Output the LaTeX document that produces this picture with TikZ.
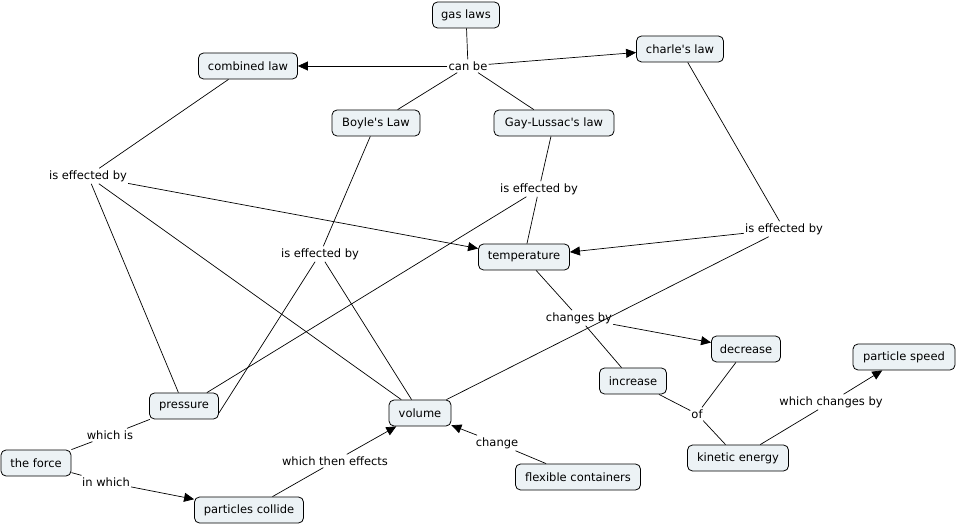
\documentclass[tikz,border=0pt]{standalone}
\usepackage{fontspec}
\setmainfont{DejaVu Sans}[Ligatures=TeXOff]
\usetikzlibrary{arrows.meta}
\definecolor{boxfill}{RGB}{236,242,245}
\begin{document}
\begin{tikzpicture}[x=1pt,y=-1pt,
  concept/.style={draw=black, fill=boxfill, rounded corners=5pt, inner xsep=6pt, inner ysep=0pt,
    minimum height=26pt, font=\fontsize{11.5}{13}\selectfont, line width=0.8pt},
  phrase/.style={inner xsep=1pt, inner ysep=2pt, font=\fontsize{11.5}{13}\selectfont},
  link/.style={draw=black, line width=0.7pt},
  arr/.style={link, -{Triangle[length=10pt,width=9pt]}}]
\useasboundingbox (0,0) rectangle (956,526);

% concepts
\node[concept, minimum width=67pt]  (gas)   at (466,15)  {gas laws};
\node[concept, minimum width=99pt]  (comb)  at (248,66)  {combined law};
\node[concept, minimum width=87pt]  (charl) at (680,49)  {charle's law};
\node[concept, minimum width=88pt]  (boyle) at (376,123) {Boyle's Law};
\node[concept, minimum width=120pt] (gay)   at (554,123) {Gay-Lussac's law};
\node[concept, minimum width=91pt]  (temp)  at (524,257) {temperature};
\node[concept, minimum width=69pt]  (dec)   at (746,349) {decrease};
\node[concept, minimum width=102pt] (speed) at (904,357) {particle speed};
\node[concept, minimum width=67pt]  (inc)   at (633,381) {increase};
\node[concept, minimum width=69pt]  (press) at (184,406) {pressure};
\node[concept, minimum width=62pt]  (vol)   at (420,413) {volume};
\node[concept, minimum width=70pt]  (force) at (36,463)  {the force};
\node[concept, minimum width=101pt] (kin)   at (738,458) {kinetic energy};
\node[concept, minimum width=125pt] (flex)  at (578,477) {flexible containers};
\node[concept, minimum width=109pt] (coll)  at (249,510) {particles collide};

% linking phrases
\node[phrase] (canbe) at (468,66)  {can be};
\node[phrase] (ieL)   at (88,176)  {is effected by};
\node[phrase] (ieM)   at (320,254) {is effected by};
\node[phrase] (ieG)   at (539,189) {is effected by};
\node[phrase] (ieC)   at (784,229) {is effected by};
\node[phrase] (chg)   at (579,318) {changes by};
\node[phrase] (of)    at (697,414) {of};
\node[phrase] (wcb)   at (831,402) {which changes by};
\node[phrase] (wis)   at (110,435) {which is};
\node[phrase] (inw)   at (106,482) {in which};
\node[phrase] (wte)   at (335,461) {which then effects};
\node[phrase] (change) at (497,443) {change};

% connectors
\draw[link] (gas) -- (canbe);
\draw[arr]  (canbe) -- (comb);
\draw[arr]  (canbe) -- (charl);
\draw[link] (canbe) -- (boyle);
\draw[link] (canbe) -- (gay);

\draw[link] (comb) -- (ieL);
\draw[arr]  (ieL) -- (temp);
\draw[link] (ieL) -- (press);
\draw[link] (ieL) -- (vol);

\draw[link] (boyle) -- (ieM);
\draw[link] (ieM) -- ([yshift=-7pt]press.east);
\draw[link] (ieM) -- (vol);

\draw[link] (gay) -- (ieG);
\draw[link] (ieG) -- (temp);
\draw[link] (ieG) -- ([xshift=-12pt]press.north east);

\draw[link] (charl) -- (ieC);
\draw[arr]  (ieC) -- (temp);
\draw[link] (ieC) -- (vol);

\draw[link] (temp) -- (chg);
\draw[arr]  (chg) -- (dec);
\draw[link] (chg) -- (inc);

\draw[link] (inc) -- (of);
\draw[link] (dec) -- (of);
\draw[link] (of) -- (kin);

\draw[link] (kin) -- (wcb);
\draw[arr]  (wcb) -- (speed);

\draw[link] (press) -- (wis);
\draw[link] (wis) -- (force);
\draw[link] (force) -- (inw);
\draw[arr]  (inw) -- (coll);
\draw[link] (coll) -- (wte);
\draw[arr]  (wte) -- (vol);
\draw[link] (flex) -- (change);
\draw[arr]  (change) -- (vol);
\end{tikzpicture}
\end{document}
